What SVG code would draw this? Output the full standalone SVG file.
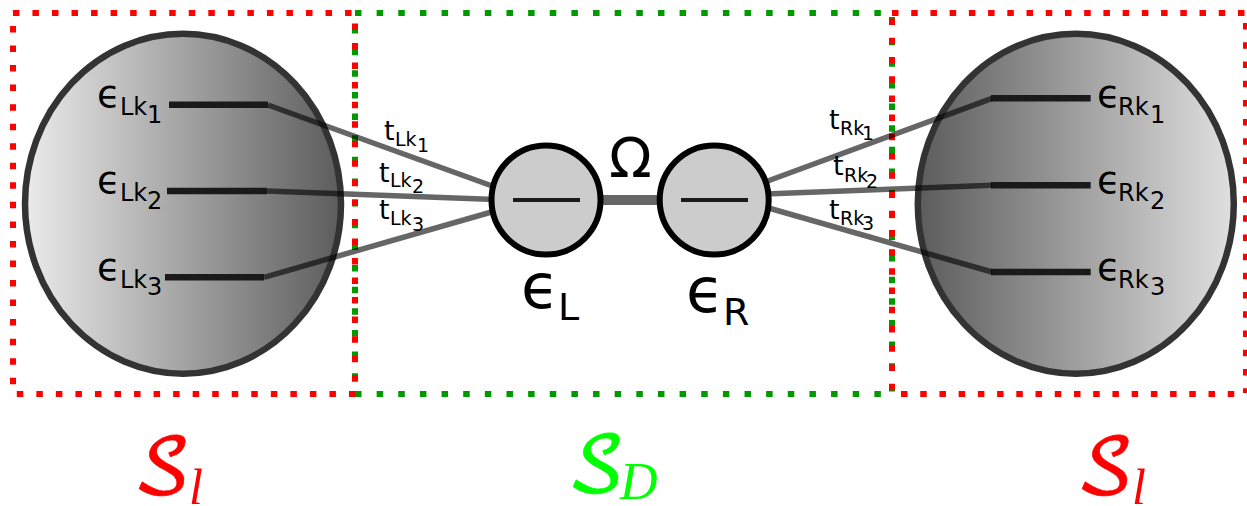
<svg xmlns="http://www.w3.org/2000/svg" width="1247" height="506" viewBox="0 0 1247 506">
<defs>
<linearGradient id="gl" x1="0" x2="1" y1="0" y2="0"><stop offset="0" stop-color="#ebebeb"/><stop offset="1" stop-color="#5c5c5c"/></linearGradient>
<linearGradient id="gr" x1="0" x2="1" y1="0" y2="0"><stop offset="0" stop-color="#5c5c5c"/><stop offset="1" stop-color="#e0e0e0"/></linearGradient>
</defs>
<style>
.red{fill:none;stroke:#f00;stroke-width:6}
.green{fill:none;stroke:#090;stroke-width:6;stroke-dasharray:6.5 15.14}
.big{stroke:#333;stroke-width:6.5}
.lvl{stroke:#1a1a1a;stroke-width:6.5}
.con{stroke:#000;stroke-opacity:.6;stroke-width:5.5;fill:none}
.dot{fill:#ccc;stroke:#000;stroke-width:6}
.in{stroke:#1a1a1a;stroke-width:4}
text{font-family:"DejaVu Sans",sans-serif;fill:#000}
.e{font-size:38px}.s{font-size:24px}
.t{font-size:27px}.ts{font-size:19px}
.cal{font-family:"DejaVu Math TeX Gyre","Liberation Serif",serif;font-style:normal;font-size:76px;stroke-width:.6}
.it{font-family:"Liberation Serif",serif;font-style:italic}
</style>
<g id="frames">
<path class="green" d="M355 27V394M355 394H891M892 17V392M355 13H891"/>
<path class="red" stroke-dasharray="6.5 13.04" d="M12.9 13H355M355 23.5V393M16.8 394H358M13 26V385"/>
<path class="red" stroke-dasharray="6.5 12.72" d="M892 18.5V392M892 13H1247M901 394H1247M1246 23V393"/>
</g>
<g id="reservoir-left"><ellipse class="big" cx="183" cy="203.7" rx="158" ry="170" fill="url(#gl)"/>
<line class="lvl" x1="169" y1="104.7" x2="268" y2="104.7"/><line class="lvl" x1="167" y1="191" x2="267" y2="191"/><line class="lvl" x1="165" y1="277.3" x2="264" y2="277.3"/>
<text class="e" x="97" y="107">ϵ</text><text class="s" x="120" y="114.5">Lk</text><text class="s" x="147" y="122.5">1</text>
<text class="e" x="97" y="193">ϵ</text><text class="s" x="120" y="201">Lk</text><text class="s" x="147" y="209">2</text>
<text class="e" x="97" y="280">ϵ</text><text class="s" x="120" y="287.5">Lk</text><text class="s" x="147" y="295">3</text>
</g>
<g id="reservoir-right"><ellipse class="big" cx="1075.8" cy="203.7" rx="158" ry="170" fill="url(#gr)"/>
<line class="lvl" x1="991" y1="98.3" x2="1090.7" y2="98.3"/><line class="lvl" x1="991" y1="185.3" x2="1090.7" y2="185.3"/><line class="lvl" x1="991" y1="272" x2="1090.7" y2="272"/>
<text class="e" x="1097" y="107">ϵ</text><text class="s" x="1118" y="114.5">Rk</text><text class="s" x="1150" y="122.5">1</text>
<text class="e" x="1097" y="193">ϵ</text><text class="s" x="1118" y="201">Rk</text><text class="s" x="1150" y="209">2</text>
<text class="e" x="1097" y="280">ϵ</text><text class="s" x="1118" y="287.5">Rk</text><text class="s" x="1150" y="295">3</text>
</g>
<g id="connectors">
<path class="con" d="M268 105L495 187M267 191L495 199.5M264 277.3L495 211"/>
<path class="con" d="M992 98.3L765 182M992 185.3L765 194M992 272L765 207"/>
<line x1="600" y1="200" x2="660" y2="200" stroke="#666" stroke-width="10"/>
</g>
<g id="dot-left"><ellipse class="dot" cx="546" cy="200" rx="54.5" ry="54.5"/><line class="in" x1="513" y1="200" x2="580" y2="200"/>
<text x="521" y="308" font-size="62">ϵ</text><text x="558" y="320" font-size="38">L</text></g>
<g id="dot-right"><ellipse class="dot" cx="714.2" cy="200" rx="54.5" ry="54.5"/><line class="in" x1="681" y1="200" x2="748" y2="200"/>
<text x="686" y="312" font-size="62">ϵ</text><text x="723" y="324.5" font-size="38">R</text></g>
<text id="omega" x="609" y="177" font-size="56">Ω</text>
<g id="hop-labels">
<text class="t" x="384" y="140">t</text><text class="ts" x="395" y="146">Lk</text><text class="ts" x="417" y="152">1</text>
<text class="t" x="379" y="181.7">t</text><text class="ts" x="390" y="187">Lk</text><text class="ts" x="412" y="193">2</text>
<text class="t" x="379" y="219.3">t</text><text class="ts" x="390" y="225">Lk</text><text class="ts" x="412" y="231">3</text>
<text class="t" x="829" y="129.3">t</text><text class="ts" x="840" y="134.5">Rk</text><text class="ts" x="862" y="140">1</text>
<text class="t" x="833" y="174.5">t</text><text class="ts" x="844" y="182">Rk</text><text class="ts" x="866" y="188">2</text>
<text class="t" x="829" y="218.5">t</text><text class="ts" x="840" y="224.5">Rk</text><text class="ts" x="862" y="230">3</text>
</g>
<g id="legend">
<text class="cal" x="133" y="493" style="fill:#f00;stroke:#f00">𝒮</text><text class="it" x="189" y="504" font-size="50" style="fill:#f00">l</text>
<text class="cal" x="567" y="491" style="fill:#0f0;stroke:#0f0">𝒮</text><text class="it" x="620" y="499" font-size="52" style="fill:#0f0">D</text>
<text class="cal" x="1076" y="493" style="fill:#f00;stroke:#f00">𝒮</text><text class="it" x="1132" y="504" font-size="50" style="fill:#f00">l</text>
</g>
</svg>
